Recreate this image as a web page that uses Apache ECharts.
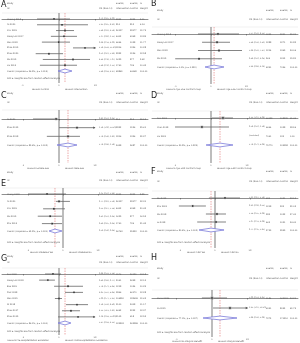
<!DOCTYPE html>
<html>
<head>
<meta charset="utf-8">
<script src="https://cdn.jsdelivr.net/npm/echarts@6/dist/echarts.min.js"></script>
<style>
  html, body { margin: 0; padding: 0; background: #fff; }
  #chart { width: 300px; height: 343px; }
</style>
</head>
<body>
<div id="chart"></div>
<script>
// ---- data (OR with 95% CI, log scale) ----
const tickVals = [0.1, 1, 10];
const tickLabels = ['.1', '1', '10'];

// A
const studyA = ['Cheung 2018', 'Yu 2020', 'Kim 2019', 'Kobayashi 2017', 'Wen 2018', 'Zhao 2019', 'Zhou 2020', 'Wu 2019', 'Liu 2019'];
const orA = [0.73, 1.21, 1.46, 1.37, 0.98, 5.16, 0.53, 2.42, 1.46];
const loA = [0.25, 0.25, 0.83, 0.60, 0.34, 2.42, 0.23, 0.36, 0.30];
const hiA = [2.00, 6.23, 2.58, 3.11, 2.00, 11.2, 1.29, 7.07, 3.11];
const evIA = [2835, 810, 26137, 4402, 6644, 1816, 2832, 1629, 1740];
const evCA = [5225, 815, 28177, 4348, 1028, 1336, 1536, 877, 726];
const wtA = [9.11, 6.14, 15.79, 13.89, 11.77, 10.28, 12.98, 9.62, 10.42];
const overallA = [1.46, 0.94, 2.27];
const overallLabelA = 'Overall (I-squared = 56.3%, p = 0.019)';

// B
const studyB = ['Cheung 2018', 'Kobayashi 2017', 'Wen 2018', 'Wu 2019'];
const orB = [1.57, 1.48, 1.68, 0.46];
const loB = [0.43, 0.56, 0.43, 0.098];
const hiB = [6.15, 3.43, 7.47, 2.04];
const evIB = [1225, 1288, 1214, 564];
const evCB = [3251, 1271, 1369, 1205];
const wtB = [25.31, 30.82, 24.06, 19.81];
const overallB = [1.22, 0.68, 2.32];
const overallLabelB = 'Overall (I-squared = 0.0%, p = 0.553)';

// C
const studyC = ['Yu 2020', 'Zhou 2019', 'Zhao 2018'];
const orC = [0.83, 3.16, 1.78];
const loC = [0.19, 1.00, 0.46];
const hiC = [0.94, 14.5, 3.83];
const evIC = [810, 2832, 1816];
const evCC = [815, 1536, 1336];
const wtC = [35.12, 29.61, 35.27];
const overallC = [1.78, 0.88, 3.16];
const overallLabelC = 'Overall (I-squared = 83.6%, p = 0.002)';

// D
const studyD = ['Ahn 2020', 'Chen 2018', 'Liu 2020'];
const orD = [2.15, 0.56, null];
const loD = [1.07, 0.10, null];
const hiD = [4.08, 3.16, null];
const evID = [66085, 6644, 7041];
const evCD = [108235, 1028, 135];
const wtD = [61.44, 38.56, 0];
const overallD = [1.78, 0.73, 4.08];
const overallLabelD = 'Overall (I-squared = 30.9%, p = 0.229)';

// E
const studyE = ['Cheng 2018', 'Yu 2020', 'Kim 2019', 'Wu 2019', 'Zhu 2019'];
const orE = [0.35, 0.77, 0.55, 0.43, 0.49];
const loE = [0.10, 0.63, 0.27, 0.19, 0.25];
const hiE = [1.22, 1.58, 1.14, 0.94, 0.94];
const evIE = [2835, 26137, 4402, 1629, 1740];
const evCE = [5225, 28177, 4348, 877, 726];
const wtE = [8.89, 32.31, 20.42, 16.93, 21.45];
const overallE = [0.59, 0.40, 0.94];
const overallLabelE = 'Overall (I-squared = 45.3%, p = 0.120)';

// F
const studyF = ['Niu 2019', 'Zhu 2020', 'Wu 2018', 'Lu 2018'];
const orF = [1.93, 0.23, 1.14, 1.07];
const loF = [0.67, 0.093, 0.55, 0.31];
const hiF = [5.18, 0.55, 2.06, 2.06];
const evIF = [485, 1218, 585, 465];
const evCF = [1021, 935, 1022, 1021];
const wtF = [23.15, 25.03, 27.41, 24.41];
const overallF = [0.77, 0.35, 1.81];
const overallLabelF = 'Overall (I-squared = 80.4%, p = 0.002)';

// G
const studyG = ['Sun 2020', 'Kobayashi 2018', 'Bae 2019', 'Park 2018', 'Wen 2019', 'Ni 2018', 'Zhou 2017', 'Zhou 2019'];
const orG = [0.68, 0.49, 1.78, 2.61, 1.00, 3.16, 2.15, 3.38];
const loG = [0.41, 0.28, 0.73, 1.47, 0.77, 1.56, 1.21, 0.94];
const hiG = [1.14, 0.77, 4.64, 4.64, 1.21, 6.40, 3.83, 14.0];
const evIG = [1976, 2041, 1218, 3846, 106850, 3100, 4662, 2109];
const evCG = [26180, 2698, 1034, 46170, 182636, 2418, 2232, 618];
const wtG = [13.18, 12.15, 10.29, 12.28, 15.63, 11.17, 12.37, 12.93];
const overallG = [1.47, 0.94, 2.15];
const overallLabelG = 'Overall (I-squared = 86.1%, p = 0.000)';

// H
const studyH = ['Kamal 2016', 'Ko 2019'];
const orH = [1.00, 3.21];
const loH = [0.52, 1.07];
const hiH = [2.65, 12.5];
const evIH = [1184, 6091];
const evCH = [162115, 8095];
const wtH = [54.21, 45.79];
const overallH = [1.68, 0.56, 5.06];
const overallLabelH = 'Overall (I-squared = 77.0%, p = 0.037)';

// ---- panel layout (pixels) ----
const panels = [
  { letter: 'A', left: 0, letterY: 5, studyY: 3, idY: 8, sepY: 13, row0: 19, step: 5.78, axisY: 83, noteY: 78, favY: 89, nullX: 59, scale: 36.5,
    fav: ['Favours Control', 'Favours Intervention'],
    d: { study: studyA, or: orA, lo: loA, hi: hiA, evI: evIA, evC: evCA, wt: wtA, overall: overallA, label: overallLabelA } },
  { letter: 'B', left: 150, letterY: 4, studyY: 10, idY: 19, sepY: 27, row0: 34, step: 8.25, axisY: 84, noteY: null, favY: 89, nullX: 211, scale: 35.5,
    fav: ['Favours Age <65 Control Group', 'Favours Age \u226565 Control Group'],
    d: { study: studyB, or: orB, lo: loB, hi: hiB, evI: evIB, evC: evCB, wt: wtB, overall: overallB, label: overallLabelB } },
  { letter: 'C', left: 0, letterY: 96, studyY: 93, idY: 102, sepY: 110, row0: 119, step: 8.67, axisY: 163, noteY: null, favY: 168, nullX: 59, scale: 36,
    fav: ['Favours Female Sex', 'Favours Male Sex'],
    d: { study: studyC, or: orC, lo: loC, hi: hiC, evI: evIC, evC: evCC, wt: wtC, overall: overallC, label: overallLabelC } },
  { letter: 'D', left: 150, letterY: 96, studyY: 93, idY: 102, sepY: 111, row0: 118, step: 9, axisY: 163, noteY: null, favY: 168, nullX: 211, scale: 36,
    fav: ['Favours Age <80 Control Group', 'Favours Age \u226580 Control Group'],
    d: { study: studyD, or: orD, lo: loD, hi: hiD, evI: evID, evC: evCD, wt: wtD, overall: overallD, label: overallLabelD } },
  { letter: 'E', left: 0, letterY: 184, studyY: 172, idY: 180, sepY: 188, row0: 194, step: 7.4, axisY: 248, noteY: 242, favY: 252, nullX: 63, scale: 35,
    fav: ['Favours Diabetes Yes', 'Favours Diabetes No'],
    d: { study: studyE, or: orE, lo: loE, hi: hiE, evI: evIE, evC: evCE, wt: wtE, overall: overallE, label: overallLabelE } },
  { letter: 'F', left: 150, letterY: 172, studyY: 171, idY: 181, sepY: 191, row0: 198, step: 8, axisY: 248, noteY: 242, favY: 252, nullX: 215, scale: 35,
    fav: ['Favours CKD Yes', 'Favours CKD No'],
    d: { study: studyF, or: orF, lo: loF, hi: hiF, evI: evIF, evC: evCF, wt: wtF, overall: overallF, label: overallLabelF } },
  { letter: 'G', left: 0, letterY: 259, studyY: 256, idY: 262, sepY: 268, row0: 274, step: 6.125, axisY: 335, noteY: 331, favY: 340, nullX: 59, scale: 36,
    fav: ['Favours Pre-Hospitalization Escalation', 'Favours Post-Hospitalization Escalation'],
    d: { study: studyG, or: orG, lo: loG, hi: hiG, evI: evIG, evC: evCG, wt: wtG, overall: overallG, label: overallLabelG } },
  { letter: 'H', left: 150, letterY: 258, studyY: 268, idY: 278, sepY: 290, row0: 298, step: 10, axisY: 337, noteY: 332, favY: 341, nullX: 212, scale: 35.5,
    fav: ['Favours No Dialysis Benefit', 'Favours Dialysis Benefit'],
    d: { study: studyH, or: orH, lo: loH, hi: hiH, evI: evIH, evC: evCH, wt: wtH, overall: overallH, label: overallLabelH } },
];

const FONT = 'DejaVu Sans';
const TXT = '#555';
const cols = [7, 99, 116, 130, 140];
const clipMax = 1; // log10(10): CIs beyond this get an arrow

const fmtES = (o, l, h) => `${o.toFixed(2)} (${l.toFixed(2)}, ${h.toFixed(2)})`;
const sum = (a) => a.reduce((s, v) => s + v, 0);

const grids = [], xAxes = [], yAxes = [], series = [], graphics = [];

function txt(x, y, text, extra) {
  return { type: 'text', x, y, silent: true,
    style: Object.assign({ text, fontSize: 2.2, fill: TXT, fontFamily: FONT, verticalAlign: 'middle' }, extra || {}) };
}

panels.forEach((p, gi) => {
  const d = p.d;
  const n = d.study.length;
  const L = p.left;
  grids.push({ left: L + 2, top: p.sepY, width: 146, height: p.axisY - p.sepY, outerBoundsMode: 'none' });
  xAxes.push({
    gridIndex: gi, type: 'value',
    min: (L + 2 - p.nullX) / p.scale, max: (L + 148 - p.nullX) / p.scale,
    axisLine: { lineStyle: { color: '#444', width: 0.6 } },
    axisTick: { customValues: tickVals.map(Math.log10), length: 1.5, lineStyle: { color: '#444', width: 0.5 } },
    axisLabel: {
      customValues: tickVals.map(Math.log10), fontSize: 2.2, margin: 1.2, color: TXT, fontFamily: FONT,
      formatter: (v) => tickLabels[tickVals.findIndex((t) => Math.abs(Math.log10(t) - v) < 1e-6)] || ''
    },
    splitLine: { show: false }
  });
  yAxes.push({ gridIndex: gi, type: 'value', inverse: true, show: false,
    min: (p.sepY - p.row0) / p.step, max: (p.axisY - p.row0) / p.step });

  // reference lines: null (OR = 1) and pooled estimate
  series.push({
    type: 'custom', xAxisIndex: gi, yAxisIndex: gi, silent: true,
    data: [[0], [Math.log10(d.overall[0])]],
    renderItem(params, api) {
      const x = api.coord([api.value(0), 0])[0];
      const cs = params.coordSys;
      const red = params.dataIndex === 1;
      return { type: 'line', shape: { x1: x, y1: cs.y, x2: x, y2: cs.y + cs.height },
        style: red ? { stroke: '#e07070', lineWidth: 0.6, lineDash: [1.5, 1] } : { stroke: '#444', lineWidth: 0.7 } };
    }
  });

  // study CIs
  const ciData = [];
  d.or.forEach((o, i) => {
    if (o != null) ciData.push([i, Math.log10(o), Math.log10(d.lo[i]), Math.log10(d.hi[i]), d.wt[i]]);
  });
  series.push({
    type: 'custom', xAxisIndex: gi, yAxisIndex: gi, silent: true, data: ciData,
    renderItem(params, api) {
      const y = api.coord([0, api.value(0)])[1];
      const xp = api.coord([api.value(1), 0])[0];
      const xl = api.coord([api.value(2), 0])[0];
      const over = api.value(3) > clipMax;
      const xh = api.coord([over ? clipMax : api.value(3), 0])[0];
      const side = 1 + Math.sqrt(api.value(4)) * 0.25;
      const ch = [
        { type: 'line', shape: { x1: xl, y1: y, x2: xh, y2: y }, style: { stroke: '#666', lineWidth: 0.8 } },
        { type: 'rect', shape: { x: xp - side / 2, y: y - side / 2, width: side, height: side }, style: { fill: '#aaa' } },
        { type: 'rect', shape: { x: xp - 0.7, y: y - 0.7, width: 1.4, height: 1.4 }, style: { fill: '#222' } }
      ];
      if (over) ch.push({ type: 'polygon', shape: { points: [[xh + 0.5, y], [xh - 1.8, y - 1.2], [xh - 1.8, y + 1.2]] }, style: { fill: '#555' } });
      return { type: 'group', children: ch };
    }
  });

  // pooled diamond
  series.push({
    type: 'custom', xAxisIndex: gi, yAxisIndex: gi, silent: true,
    data: [[n, Math.log10(d.overall[0]), Math.log10(d.overall[1]), Math.log10(d.overall[2])]],
    renderItem(params, api) {
      const y = api.coord([0, api.value(0)])[1];
      const xc = api.coord([api.value(1), 0])[0];
      const xl = api.coord([api.value(2), 0])[0];
      const xh = api.coord([api.value(3), 0])[0];
      return { type: 'polygon', shape: { points: [[xl, y], [xc, y - 1.9], [xh, y], [xc, y + 1.9]] },
        style: { fill: '#fff', stroke: '#6a6ad6', lineWidth: 0.7 } };
    }
  });

  // text columns per row
  const rows = d.study.map((_, i) => [i]).concat([[n]]);
  series.push({
    type: 'custom', xAxisIndex: gi, yAxisIndex: gi, silent: true, data: rows, z: 5,
    renderItem(params, api) {
      const i = api.value(0);
      const y = api.coord([0, i])[1];
      const x0 = params.coordSys.x - 2;
      let cells;
      if (i === n) {
        cells = [d.label, fmtES(d.overall[0], d.overall[1], d.overall[2]), String(sum(d.evI)), String(sum(d.evC)), '100.00'];
      } else {
        const es = d.or[i] == null ? '(Excluded)' : fmtES(d.or[i], d.lo[i], d.hi[i]);
        cells = [d.study[i], es, String(d.evI[i]), String(d.evC[i]), d.wt[i].toFixed(2)];
      }
      return { type: 'group', children: cells.map((t, k) => ({ type: 'text',
        style: { text: t, x: x0 + cols[k], y, fontSize: k === 1 ? 1.9 : 2.1, fill: TXT, fontFamily: FONT, verticalAlign: 'middle' } })) };
    }
  });

  // panel furniture
  graphics.push(txt(L + 1, p.letterY, p.letter, { fontSize: 8, fill: '#222' }));
  graphics.push(txt(L + cols[0], p.studyY, 'Study'));
  graphics.push(txt(L + cols[0], p.idY, 'ID'));
  graphics.push(txt(L + cols[1], p.idY, 'OR (95% CI)'));
  graphics.push(txt(L + cols[2], p.studyY, 'Events,'));
  graphics.push(txt(L + cols[2], p.idY, 'Intervention'));
  graphics.push(txt(L + cols[3], p.studyY, 'Events,'));
  graphics.push(txt(L + cols[3], p.idY, 'Control'));
  graphics.push(txt(L + cols[4], p.studyY, '%'));
  graphics.push(txt(L + cols[4], p.idY, 'Weight'));
  graphics.push({ type: 'line', silent: true, shape: { x1: L + 2, y1: p.sepY, x2: L + 148, y2: p.sepY }, style: { stroke: '#e2e2e2', lineWidth: 0.5 } });
  if (p.noteY != null) graphics.push(txt(L + cols[0], p.noteY, 'NOTE: Weights are from random effects analysis'));
  graphics.push(txt(p.nullX - 10, p.favY, p.fav[0], { align: 'right' }));
  graphics.push(txt(p.nullX + 6, p.favY, p.fav[1]));
});

const chart = echarts.init(document.getElementById('chart'), null, { renderer: 'canvas' });
chart.setOption({
  animation: false,
  backgroundColor: '#fff',
  grid: grids,
  xAxis: xAxes,
  yAxis: yAxes,
  series,
  graphic: graphics
});
</script>
</body>
</html>
